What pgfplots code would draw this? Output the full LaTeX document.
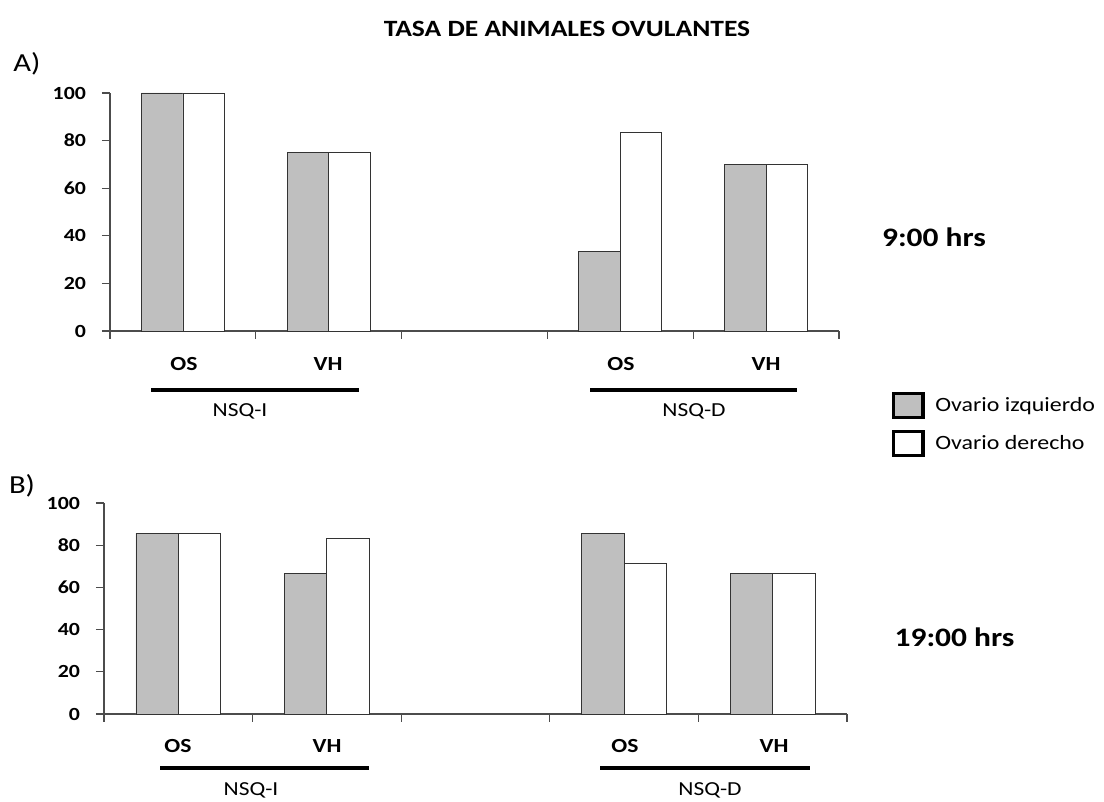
\documentclass[border=0pt]{standalone}
\usepackage{pgfplots}
\pgfplotsset{compat=1.18}
\usepackage{fontspec}
\setmainfont{Carlito}[FakeStretch=1.18]
\definecolor{barGray}{RGB}{191,191,191}
\pgfplotsset{boxlegend/.style={legend image code/.code={\draw[##1, draw=black, line width=2.4pt] (0pt,-9pt) rectangle (22pt,9pt);}}}
\begin{document}
\begin{tikzpicture}
\useasboundingbox (0,0) rectangle (828pt,601.5pt);
\pgfplotsset{myax/.style={
  scale only axis, anchor=south west,
  ybar=0pt, bar width=0.285,
  xmin=-0.5, xmax=4.5, ymin=0, ymax=100,
  axis x line*=bottom, axis y line*=left,
  xtick={-0.5,0.5,1.5,2.5,3.5,4.5}, xticklabels={},
  ytick={0,20,...,100},
  tick align=outside, major tick length=6pt,
  tick style={black!70, line width=0.8pt},
  axis line style={black!70, line width=0.8pt},
  yticklabel style={font=\fontsize{13.9}{16}\selectfont\bfseries, xshift=-8.5pt},
  /pgf/number format/assume math mode=true,
  every axis plot/.append style={draw=black!80, line width=0.6pt},
  clip=false,
}}
\begin{axis}[myax, at={(82.5pt,353.25pt)}, width=546.75pt, height=178.5pt,
  legend style={at={(1.067,-0.245)}, anchor=north west, draw=none, fill=none,
    font=\fontsize{15.2}{18}\selectfont, row sep=8pt, column sep=6pt},
  legend cell align=left]
\addplot[fill=barGray, boxlegend] coordinates {(0,100) (1,75) (3,33.3) (4,70)};
\addplot[fill=white, boxlegend] coordinates {(0,100) (1,75) (3,83.3) (4,70)};
\legend{Ovario izquierdo, Ovario derecho}
\end{axis}
\begin{axis}[myax, at={(78pt,66pt)}, width=557.25pt, height=158.25pt]
\addplot[fill=barGray] coordinates {(0,85.7) (1,66.7) (3,85.7) (4,66.7)};
\addplot[fill=white] coordinates {(0,85.7) (1,83.3) (3,71.4) (4,66.7)};
\end{axis}
\begin{scope}[yshift=601.5pt, x=0.75pt, y=-0.75pt]
\node[font=\fontsize{17.5}{20}\selectfont\bfseries] at (567,29) {TASA DE ANIMALES OVULANTES};
\node[font=\fontsize{19.5}{22}\selectfont] at (27,64) {A)};
\node[font=\fontsize{19.5}{22}\selectfont] at (22,486) {B)};
\node[font=\fontsize{20}{24}\selectfont\bfseries] at (934,237) {9:00 hrs};
\node[font=\fontsize{20}{24}\selectfont\bfseries] at (954.5,637) {19:00 hrs};
% top group labels
\foreach \x/\t in {184/OS,328/VH,621/OS,766/VH}{\node[font=\fontsize{15}{17}\selectfont\bfseries] at (\x,364) {\t};}
\draw[line width=3.7pt] (151,390) -- (359,390);
\draw[line width=3.7pt] (590,390) -- (797,390);
\node[font=\fontsize{14.9}{17}\selectfont] at (240,411) {NSQ-I};
\node[font=\fontsize{14.9}{17}\selectfont] at (694,411) {NSQ-D};
% bottom group labels
\foreach \x/\t in {178/OS,327/VH,625/OS,774/VH}{\node[font=\fontsize{15}{17}\selectfont\bfseries] at (\x,746) {\t};}
\draw[line width=3.7pt] (160,768) -- (369,768);
\draw[line width=3.7pt] (600,768) -- (810,768);
\node[font=\fontsize{14.9}{17}\selectfont] at (251,790) {NSQ-I};
\node[font=\fontsize{14.9}{17}\selectfont] at (710,790) {NSQ-D};
\end{scope}
\end{tikzpicture}
\end{document}
